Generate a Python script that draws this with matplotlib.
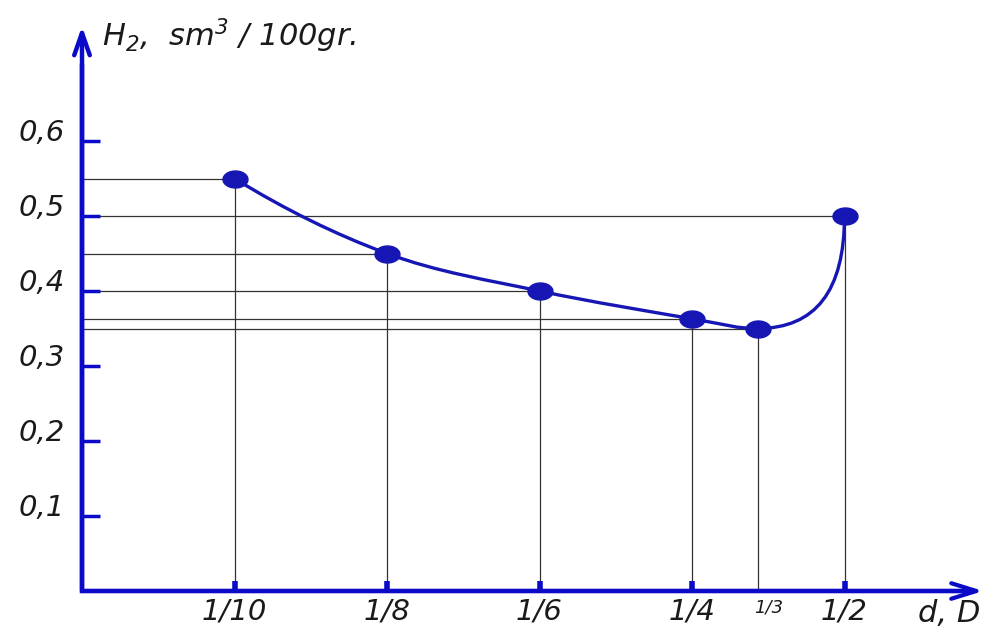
import numpy as np
import matplotlib
matplotlib.use("Agg")
import matplotlib.pyplot as plt
from matplotlib.path import Path
from matplotlib.patches import PathPatch

# data
labels = ["1/10", "1/8", "1/6", "1/4", "1/3", "1/2"]
x_pos = [1.0, 2.0, 3.0, 4.0, 4.43, 5.0]       # place of each d/D on the drawn axis
h2 = [0.55, 0.45, 0.40, 0.363, 0.35, 0.50]   # H2, sm3/100gr
y_ticks = [0.1, 0.2, 0.3, 0.4, 0.5, 0.6]
y_ticklabels = ["0,1", "0,2", "0,3", "0,4", "0,5", "0,6"]
x_tick_marks = [True, True, True, True, False, True]

BLUE = "#0a0ac8"
CURVE = "#1616b4"
plt.rcParams["mathtext.fontset"] = "custom"
plt.rcParams["mathtext.rm"] = "DejaVu Sans:italic"
plt.rcParams["mathtext.it"] = "DejaVu Sans:italic"
txt = dict(family="DejaVu Sans", style="italic", color="#1a1a1a")

fig = plt.figure(figsize=(9.85, 6.28), dpi=100)
ax = fig.add_axes([0, 0, 1, 1])
ax.set_xlim(-82 / 152.5, 903 / 152.5)
ax.set_ylim(-37 / 750, 591 / 750)
ax.axis("off")

# thin reference lines
for x, y in zip(x_pos, h2):
    ax.plot([0, x], [y, y], color="#333333", lw=0.9, zorder=1)
    ax.plot([x, x], [0, y], color="#333333", lw=0.9, zorder=1)

# axes with arrows
ax.plot([0, 0, 5.8], [0.7, 0, 0], color=BLUE, lw=3.2, solid_joinstyle="miter", zorder=3)
ax.annotate("", xy=(0, 0.753), xytext=(0, 0), annotation_clip=False,
            arrowprops=dict(arrowstyle="->,head_length=0.8,head_width=0.28",
                            mutation_scale=20, color=BLUE, lw=3.2,
                            shrinkA=0, shrinkB=0), zorder=3)
ax.annotate("", xy=(5.91, 0), xytext=(0, 0), annotation_clip=False,
            arrowprops=dict(arrowstyle="->,head_length=0.9,head_width=0.28",
                            mutation_scale=20, color=BLUE, lw=3,
                            shrinkA=0, shrinkB=0), zorder=3)

# y ticks
for v, lab in zip(y_ticks, y_ticklabels):
    ax.plot([0, 0.115], [v, v], color=BLUE, lw=2.5, solid_capstyle="butt", zorder=3)
    ax.text(-0.11, v, lab, ha="right", va="baseline", fontsize=21, **txt)

# x ticks
for x, lab, mark in zip(x_pos, labels, x_tick_marks):
    if mark:
        ax.plot([x, x], [0, 0.013], color=BLUE, lw=4, solid_capstyle="butt", zorder=3)
    if lab == "1/3":
        ax.text(x + 0.07, -0.01, lab, ha="center", va="top", fontsize=13, **txt)
    else:
        ax.text(x, -0.008, lab, ha="center", va="top", fontsize=21, **txt)

ax.text(0.13, 0.726, r"H$_2$,  sm$^3$ / 100gr.", ha="left", va="baseline", fontsize=22, **txt)
ax.text(5.89, -0.041, "d, D", ha="right", va="baseline", fontsize=22, **txt)

# smooth curve: Catmull-Rom through the falling part, then a quadratic rise to 1/2
P = np.column_stack([x_pos, h2])
n = len(P) - 1
tang = [None] * n
for i in range(1, n - 1):
    tang[i] = (P[i + 1] - P[i - 1]) / 2
tang[0] = 2 * (P[1] - P[0]) - tang[1]
tang[n - 1] = np.array([P[n - 1][0] - P[n - 2][0], 0.0])
verts = [tuple(P[0])]
codes = [Path.MOVETO]
for i in range(n - 1):
    p1, p2 = P[i], P[i + 1]
    c1 = p1 + tang[i] / 3
    c2 = p2 - tang[i + 1] / 3
    verts += [tuple(c1), tuple(c2), tuple(p2)]
    codes += [Path.CURVE4] * 3
verts += [(P[n][0], P[n - 1][1]), tuple(P[n])]
codes += [Path.CURVE3] * 2
ax.add_patch(PathPatch(Path(verts, codes), fill=False, edgecolor=CURVE, lw=2.4, zorder=4))

ell = np.linspace(0, 2 * np.pi, 40)
marker = Path(np.column_stack([np.cos(ell), 0.68 * np.sin(ell)]))
ax.plot(x_pos, h2, ls="none", marker=marker, ms=18, color=CURVE, zorder=5)

fig.savefig("out.png", dpi=100)
